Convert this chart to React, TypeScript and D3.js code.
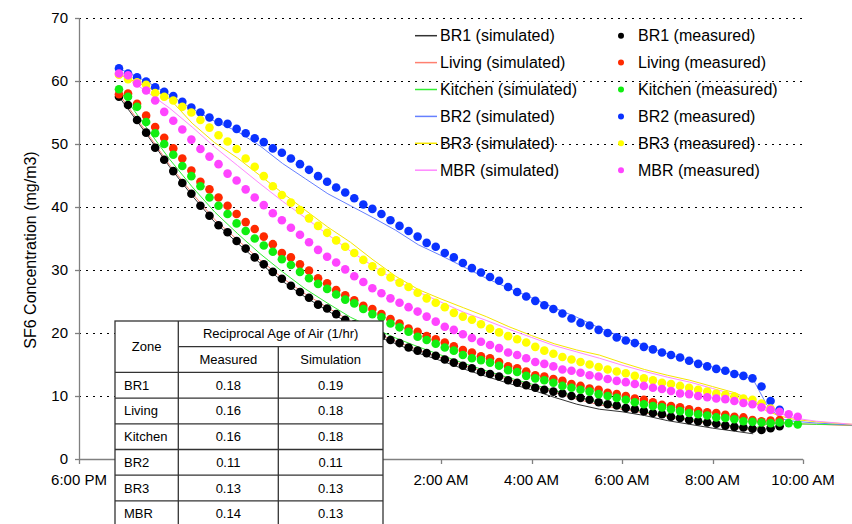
import React from "react";
import * as d3 from "d3";

// ---------- data ----------
const zones = ["BR1", "Living", "Kitchen", "BR2", "BR3", "MBR"];
const yTickValues = [0, 10, 20, 30, 40, 50, 60, 70];
const xTickLabels = ["6:00 PM", "8:00 PM", "10:00 PM", "12:00 AM", "2:00 AM", "4:00 AM", "6:00 AM", "8:00 AM", "10:00 AM"];

// measured samples every 12 minutes starting 6:53 PM
const measuredStartMin = 53;
const measuredStepMin = 12;

const br1Measured = [57.5, 56.2, 53.8, 51.8, 49.4, 47.5, 45.7, 43.8, 42.1, 40.2, 38.6, 37.1, 36.0, 34.6, 33.4, 32.0, 30.9, 29.7, 28.6, 27.5, 26.5, 25.6, 24.5, 23.9, 23.0, 22.1, 21.4, 20.7, 20.0, 19.5, 18.9, 18.4, 17.7, 17.2, 16.8, 16.4, 15.8, 15.3, 14.8, 14.4, 13.8, 13.5, 13.1, 12.5, 12.1, 11.7, 11.3, 11.0, 10.7, 10.4, 10.0, 9.7, 9.4, 9.0, 8.7, 8.5, 8.1, 7.9, 7.6, 7.3, 7.1, 6.7, 6.5, 6.2, 6.0, 5.8, 5.6, 5.3, 5.1, 5.0, 4.8, 4.6, 4.9, 5.2];
const livingMeasured = [57.9, 58.0, 56.4, 54.5, 52.7, 51.0, 49.3, 47.7, 45.8, 44.0, 42.8, 41.5, 40.2, 38.9, 37.6, 36.5, 35.3, 34.1, 32.7, 32.0, 30.9, 29.9, 28.7, 27.9, 26.8, 26.0, 25.2, 24.3, 23.8, 23.0, 22.2, 21.5, 20.7, 20.2, 19.5, 19.0, 18.5, 17.9, 17.3, 16.9, 16.3, 16.0, 15.4, 14.7, 14.4, 13.9, 13.3, 13.1, 12.7, 12.4, 11.9, 11.6, 11.2, 11.0, 10.5, 10.3, 10.0, 9.6, 9.4, 9.0, 8.6, 8.4, 8.2, 7.9, 7.6, 7.4, 7.3, 7.0, 6.7, 6.6, 6.2, 6.0, 6.1, 6.2];
const kitchenMeasured = [58.7, 57.5, 55.9, 53.5, 51.7, 50.0, 48.3, 46.5, 44.9, 43.3, 41.5, 40.2, 38.9, 37.4, 36.2, 35.0, 33.9, 32.9, 31.7, 30.8, 29.7, 28.7, 27.8, 27.0, 26.1, 25.3, 24.7, 23.8, 23.0, 22.5, 21.5, 20.9, 20.2, 19.4, 18.9, 18.3, 17.7, 17.2, 16.5, 16.0, 15.7, 15.3, 14.8, 14.1, 13.8, 13.2, 12.8, 12.5, 12.1, 11.6, 11.3, 11.0, 10.7, 10.3, 10.0, 9.7, 9.4, 9.0, 8.7, 8.4, 8.2, 7.9, 7.6, 7.3, 7.1, 6.9, 6.6, 6.5, 6.3, 6.0, 5.9, 5.8, 5.7, 5.8, 5.7, 5.5];
const br2Measured = [62.0, 61.2, 60.6, 59.9, 59.0, 58.3, 57.6, 56.7, 55.8, 55.0, 54.2, 53.5, 53.2, 52.4, 51.7, 50.9, 50.3, 49.3, 48.6, 47.7, 46.8, 45.9, 44.9, 44.0, 43.1, 42.3, 41.4, 40.4, 39.7, 38.9, 37.9, 37.0, 36.2, 35.3, 34.3, 33.7, 32.7, 32.0, 31.1, 30.3, 29.6, 28.9, 28.3, 27.3, 26.5, 25.8, 25.1, 24.4, 23.8, 23.1, 22.3, 21.6, 21.2, 20.5, 20.0, 19.3, 18.8, 18.4, 17.8, 17.4, 16.9, 16.5, 16.1, 15.6, 15.1, 14.7, 14.3, 14.0, 13.5, 13.2, 12.8, 11.5, 9.2, 7.8];
const br3Measured = [61.0, 60.3, 59.8, 59.4, 58.1, 57.5, 56.9, 55.9, 55.0, 53.8, 52.6, 51.4, 50.4, 49.2, 47.7, 46.4, 44.9, 43.3, 41.9, 40.7, 39.5, 38.2, 37.0, 35.9, 34.7, 33.7, 32.7, 31.6, 30.6, 29.7, 28.8, 28.0, 27.3, 26.4, 25.5, 24.8, 24.1, 23.2, 22.6, 22.1, 21.4, 20.7, 20.1, 19.5, 19.0, 18.5, 17.8, 17.2, 16.7, 16.2, 15.8, 15.4, 15.0, 14.6, 14.2, 13.9, 13.6, 13.2, 12.8, 12.5, 12.1, 11.9, 11.6, 11.3, 11.0, 10.7, 10.4, 10.2, 9.9, 9.6, 9.4, 8.8, 8.0];
const mbrMeasured = [61.2, 60.9, 59.6, 58.5, 56.9, 55.1, 53.7, 52.3, 50.7, 49.2, 48.0, 46.8, 45.3, 44.2, 42.8, 41.5, 40.3, 39.0, 37.9, 36.7, 35.6, 34.4, 33.2, 32.1, 31.2, 30.1, 29.0, 28.1, 27.1, 26.3, 25.5, 24.8, 24.1, 23.4, 22.6, 21.8, 21.0, 20.5, 19.8, 19.2, 18.6, 18.1, 17.6, 16.9, 16.5, 16.0, 15.4, 15.1, 14.7, 14.2, 14.0, 13.7, 13.3, 13.1, 12.7, 12.4, 12.2, 11.9, 11.6, 11.3, 11.1, 10.8, 10.4, 10.3, 10.0, 9.8, 9.6, 9.5, 9.2, 8.9, 8.7, 8.2, 7.8, 7.5, 7.1, 6.7];

// simulated series, hours after 6:00 PM
const simHours = [0.88, 1.5, 2.0, 2.5, 3.0, 3.5, 4.0, 4.5, 5.0, 5.5, 6.0, 6.5, 7.0, 7.5, 8.0, 8.5, 9.0, 9.5, 10.0, 10.5, 11.0, 11.5, 12.0, 12.5, 13.0, 13.5, 14.0, 14.5, 14.9, 15.2, 15.5, 15.8, 16.3, 17.1];
const br1Sim = [57.5, 51.5, 46.4, 41.8, 37.6, 34.3, 31.1, 28.2, 25.7, 23.5, 21.4, 19.7, 18.3, 16.8, 15.6, 14.3, 13.1, 12.0, 11.0, 9.8, 8.7, 7.9, 7.5, 6.9, 6.1, 5.5, 4.9, 4.4, 4.0, null, null, null, null, null];
const livingSim = [57.9, 51.8, 46.7, 42.2, 38.0, 34.8, 31.6, 28.7, 26.2, 24.0, 21.9, 20.2, 18.7, 17.3, 16.1, 14.9, 13.7, 12.6, 11.6, 10.6, 9.5, 8.6, 7.9, 7.3, 6.7, 6.1, 5.5, 5.0, 4.6, 5.5, 5.7, 5.6, 5.5, 5.3];
const kitchenSim = [58.7, 52.5, 47.6, 43.2, 39.2, 35.8, 32.6, 29.7, 27.0, 24.7, 22.5, 20.8, 19.2, 17.8, 16.5, 15.2, 14.0, 12.9, 11.9, 10.9, 9.9, 9.0, 8.2, 7.5, 6.9, 6.3, 5.7, 5.2, 4.8, 5.6, 5.8, 5.6, 5.5, 5.4];
const br2Sim = [62.0, 59.9, 57.8, 55.6, 53.6, 52.0, 49.7, 46.9, 44.5, 42.1, 40.2, 38.3, 36.3, 34.0, 32.3, 30.5, 28.7, 27.1, 25.6, 24.0, 22.5, 20.8, 19.4, 18.0, 16.7, 15.6, 14.6, 13.6, 12.6, 8.6, 6.4, 6.0, 5.7, 5.4];
const br3Sim = [61.0, 59.1, 57.2, 53.3, 50.2, 47.8, 45.0, 42.2, 39.5, 36.8, 34.4, 31.6, 29.0, 26.9, 25.4, 24.0, 22.6, 21.0, 19.6, 18.3, 17.3, 16.5, 15.3, 14.2, 13.3, 12.5, 11.5, 10.5, 9.2, 7.6, 6.8, 6.3, 5.9, 5.5];
const mbrSim = [61.3, 58.3, 55.7, 52.7, 49.5, 46.6, 43.7, 40.9, 38.3, 35.6, 33.0, 30.6, 28.3, 26.5, 24.9, 23.3, 22.0, 20.6, 19.3, 18.0, 17.0, 16.0, 14.9, 13.9, 13.0, 12.2, 11.2, 10.2, 9.3, 8.2, 7.2, 6.5, 6.0, 5.5];

// table
const tableHeader = "Reciprocal Age of Air (1/hr)";
const rateMeasured = ["0.18", "0.16", "0.16", "0.11", "0.13", "0.14"];
const rateSimulated = ["0.19", "0.18", "0.18", "0.11", "0.13", "0.13"];

const measuredColors = ["#000000", "#FF2A00", "#11EE11", "#0A32FF", "#FFFF00", "#FF44FF"];
const simColors = ["#333333", "#FF8070", "#33EE33", "#6680FF", "#F5E600", "#FF88FF"];

const measuredSeries = [br1Measured, livingMeasured, kitchenMeasured, br2Measured, br3Measured, mbrMeasured];
const simSeries = [br1Sim, livingSim, kitchenSim, br2Sim, br3Sim, mbrSim];

const FONT = "'Liberation Sans', Arial, sans-serif";

export default function App() {
  const W = 852, H = 524;
  const t0 = new Date(2000, 0, 1, 18, 0, 0);
  const x = d3.scaleTime().domain([t0, d3.timeHour.offset(t0, 16)]).range([79, 803]);
  const y = d3.scaleLinear().domain([0, 70]).range([459, 18]);

  const mTime = (i: number) => d3.timeMinute.offset(t0, measuredStartMin + measuredStepMin * i);
  const sTime = (h: number) => d3.timeMinute.offset(t0, Math.round(h * 60));

  const line = d3.line<[Date, number | null]>()
    .defined((d) => d[1] !== null)
    .x((d) => x(d[0]))
    .y((d) => y(d[1] as number));

  // table geometry
  const tL = 115, tR = 383, c1 = 178.3, c2 = 278.3, tTop = 321, rh = 25.7;
  const rowY = (k: number) => tTop + k * rh;

  // tick labels that the table covers are not drawn
  const xTicks = xTickLabels.map((lab, i) => ({ lab, t: d3.timeHour.offset(t0, 2 * i) }));
  const visibleLabel = (px: number) => px + 30 < tL || px - 30 > tR;

  const legendY = (k: number) => 35.7 + k * 26.9;

  return (
    <svg width={W} height={H} style={{ position: "absolute", left: 0, top: 0, background: "#fff" }} fontFamily={FONT}>
      <rect x={0} y={0} width={W} height={H} fill="#fff" />
      {/* gridlines */}
      {yTickValues.filter((v) => v > 0).map((v) => (
        <line key={"g" + v} x1={79} x2={803} y1={Math.round(y(v)) + 0.5} y2={Math.round(y(v)) + 0.5}
          stroke="#000" strokeWidth={1} strokeDasharray="2,5" />
      ))}
      {/* y axis */}
      <line x1={79.5} x2={79.5} y1={y(70)} y2={y(0)} stroke="#808080" strokeWidth={1.3} />
      {yTickValues.map((v) => (
        <g key={"yt" + v}>
          <line x1={75} x2={79.5} y1={Math.round(y(v)) + 0.5} y2={Math.round(y(v)) + 0.5} stroke="#808080" strokeWidth={1.3} />
          <text x={68} y={y(v) + 5} textAnchor="end" fontSize={15} fill="#000">{v}</text>
        </g>
      ))}
      {/* x axis */}
      <line x1={79} x2={803} y1={459.5} y2={459.5} stroke="#808080" strokeWidth={1.3} />
      {xTicks.map((tk) => (
        <g key={tk.lab}>
          <line x1={Math.round(x(tk.t)) + 0.5} x2={Math.round(x(tk.t)) + 0.5} y1={459.5} y2={464} stroke="#808080" strokeWidth={1.3} />
          {visibleLabel(x(tk.t)) && (
            <text x={x(tk.t)} y={485} textAnchor="middle" fontSize={15} fill="#000">{tk.lab}</text>
          )}
        </g>
      ))}
      <text transform={`translate(36,${250}) rotate(-90)`} textAnchor="middle" fontSize={16} fill="#000">
        SF6 Concentration (mg/m3)
      </text>

      {/* simulated lines */}
      {simSeries.map((s, k) => (
        <path key={"s" + k}
          d={line(simHours.map((h, i) => [sTime(h), s[i]] as [Date, number | null])) || ""}
          fill="none" stroke={simColors[k]} strokeWidth={1} />
      ))}
      {/* measured points */}
      {measuredSeries.map((s, k) => (
        <g key={"m" + k}>
          {s.map((v, i) => (
            <circle key={i} cx={x(mTime(i))} cy={y(v)} r={4.3} fill={measuredColors[k]} />
          ))}
        </g>
      ))}

      {/* legend */}
      {zones.map((z, k) => (
        <g key={"lg" + k}>
          <line x1={415} x2={437} y1={legendY(k)} y2={legendY(k)} stroke={simColors[k]} strokeWidth={1.5} />
          <text x={440} y={legendY(k) + 5.5} fontSize={16} fill="#000">{z} (simulated)</text>
          <circle cx={621} cy={legendY(k)} r={3} fill={measuredColors[k]} />
          <text x={638} y={legendY(k) + 5.5} fontSize={16} fill="#000">{z} (measured)</text>
        </g>
      ))}

      {/* table */}
      <g>
        <rect x={tL} y={tTop} width={tR - tL} height={rowY(8) - tTop} fill="#fff" stroke="#333" strokeWidth={1.3} />
        <line x1={c1} x2={c1} y1={tTop} y2={rowY(8)} stroke="#333" strokeWidth={1.3} />
        <line x1={c2} x2={c2} y1={rowY(1)} y2={rowY(8)} stroke="#333" strokeWidth={1.3} />
        <line x1={c1} x2={tR} y1={rowY(1)} y2={rowY(1)} stroke="#333" strokeWidth={1.3} />
        {[2, 3, 4, 5, 6, 7].map((k) => (
          <line key={"tr" + k} x1={tL} x2={tR} y1={rowY(k)} y2={rowY(k)} stroke="#333" strokeWidth={1.3} />
        ))}
        <text x={(tL + c1) / 2} y={rowY(1) + 4.5} textAnchor="middle" fontSize={13}>Zone</text>
        <text x={(c1 + tR) / 2} y={rowY(0.5) + 4.5} textAnchor="middle" fontSize={13}>{tableHeader}</text>
        <text x={(c1 + c2) / 2} y={rowY(1.5) + 4.5} textAnchor="middle" fontSize={13}>Measured</text>
        <text x={(c2 + tR) / 2} y={rowY(1.5) + 4.5} textAnchor="middle" fontSize={13}>Simulation</text>
        {zones.map((z, k) => (
          <g key={"row" + k}>
            <text x={124} y={rowY(2.5 + k) + 4.5} fontSize={13}>{z}</text>
            <text x={(c1 + c2) / 2} y={rowY(2.5 + k) + 4.5} textAnchor="middle" fontSize={13}>{rateMeasured[k]}</text>
            <text x={(c2 + tR) / 2} y={rowY(2.5 + k) + 4.5} textAnchor="middle" fontSize={13}>{rateSimulated[k]}</text>
          </g>
        ))}
      </g>
    </svg>
  );
}
